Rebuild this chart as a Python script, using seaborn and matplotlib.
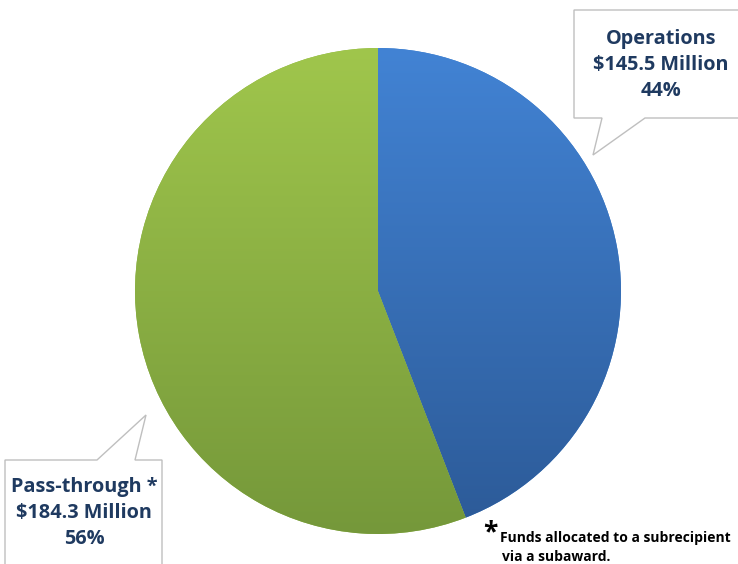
import numpy as np
import matplotlib.pyplot as plt
import seaborn as sns
from matplotlib.patches import Polygon

# data
categories = ['Operations', 'Pass-through *']
amounts = [145.5, 184.3]          # $ Million
shares = ['44%', '56%']

sns.set_theme(style="white")
plt.rcParams['font.family'] = ['Open Sans', 'DejaVu Sans']

W, H = 738, 564
fig = plt.figure(figsize=(W / 100, H / 100), dpi=100)
ax = fig.add_axes([0, 0, 1, 1])

cx, cy, r = 378, H - 291, 243

wedges, _ = ax.pie(amounts, startangle=90, counterclock=False, center=(cx, cy),
                   radius=r, colors=['#3b7dcc', '#8db543'], frame=True,
                   wedgeprops=dict(linewidth=0))

# vertical gradients inside each wedge
grads = [('#4283d4', '#2c5a97'), ('#a0c64c', '#75983a')]
for w, (top, bot) in zip(wedges, grads):
    c1 = np.array(plt.matplotlib.colors.to_rgb(top))
    c2 = np.array(plt.matplotlib.colors.to_rgb(bot))
    t = np.linspace(0, 1, 256)[:, None]
    img = (c1 * (1 - t) + c2 * t)[:, None, :]
    im = ax.imshow(img, extent=(cx - r, cx + r, cy - r, cy + r), origin='upper',
                   aspect='auto', zorder=w.get_zorder() + 0.1)
    im.set_clip_path(w)

ax.set_xlim(0, W)
ax.set_ylim(0, H)
ax.set_aspect('equal')
ax.axis('off')

# callouts
def callout(pts):
    poly = Polygon([(x, H - y) for x, y in pts], closed=True, facecolor='white',
                   edgecolor='#bfbfbf', linewidth=1, zorder=5, clip_on=False)
    ax.add_patch(poly)

callout([(574, 10), (745, 10), (745, 118), (645, 118), (593, 155), (602, 118), (574, 118)])
callout([(5, 460), (97, 460), (146, 415), (135, 460), (162, 460), (162, 570), (5, 570)])

navy = '#1f3a60'
labels = [f'{categories[i]}\n${amounts[i]:.1f} Million\n{shares[i]}' for i in range(2)]
ax.text(661, H - 65, labels[0], ha='center', va='center', fontsize=14.3,
        fontweight='bold', color=navy, linespacing=1.38, zorder=6)
ax.text(84, H - 513, labels[1], ha='center', va='center', fontsize=14.3,
        fontweight='bold', color=navy, linespacing=1.38, zorder=6)

# footnote
ax.text(483, H - 533, '*', ha='left', va='center', fontsize=19, fontweight='bold',
        color='black', zorder=6)
ax.text(500, H - 538, 'Funds allocated to a subrecipient', ha='left', va='center',
        fontsize=10, fontweight='bold', color='black', zorder=6)
ax.text(502, H - 557, 'via a subaward.', ha='left', va='center',
        fontsize=10, fontweight='bold', color='black', zorder=6)

fig.savefig('out.png', dpi=100)
